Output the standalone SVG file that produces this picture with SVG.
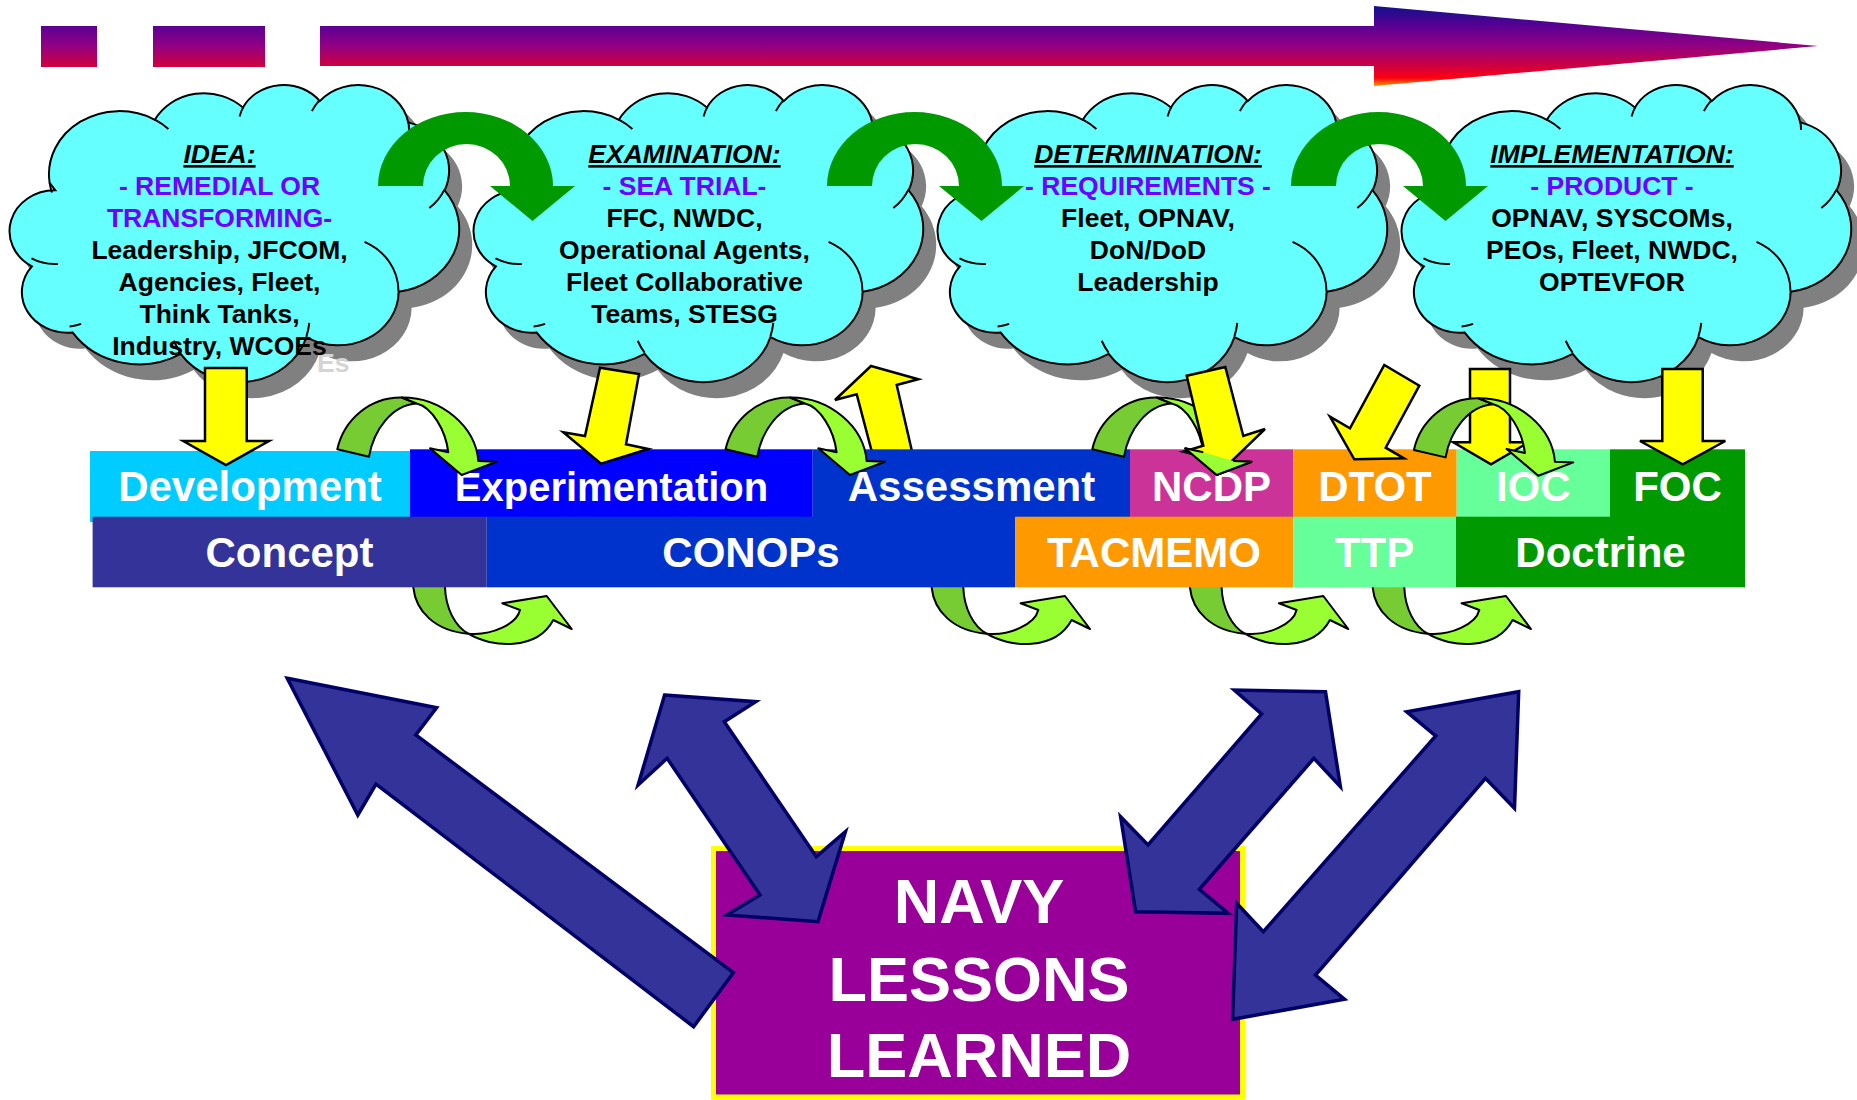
<svg xmlns="http://www.w3.org/2000/svg" width="1857" height="1100" viewBox="0 0 1857 1100">
<defs>
<linearGradient id="gTop" gradientUnits="userSpaceOnUse" x1="0" y1="6" x2="0" y2="86">
<stop offset="0" stop-color="#10108A"/>
<stop offset="0.25" stop-color="#5A0094"/>
<stop offset="0.5" stop-color="#930082"/>
<stop offset="0.75" stop-color="#CE0040"/>
<stop offset="0.9" stop-color="#FF0010"/>
<stop offset="1" stop-color="#FF9900"/>
</linearGradient>
<path id="cloud" d="M40.63,98.79 A70.34,63.18 0 0 1 145.89,35.77 A55.55,49.96 0 0 1 233.93,23.62 A45.47,40.87 0 0 1 310.78,17.08 A50.59,45.34 0 0 1 399.17,38.36 A55.55,50 0 0 1 435.63,106.32 A70.57,63.39 0 0 1 389.64,207.67 A60.26,54.09 0 0 1 297.46,253.11 A70.33,63.35 0 0 1 171.68,269.97 A80.42,72.48 0 0 1 63.56,248.39 A45.42,40.69 0 0 1 22.93,182.43 A45.26,40.87 0 0 1 46.29,106.29 Z"/>
<path id="cloudIn" d="M48.89,179.97 A45.26,40.87 0 0 1 22.5,174.49 M72.17,239.93 A45.42,40.69 0 0 1 60.61,242.56 M171.65,268.74 A70.33,63.35 0 0 1 164.69,256.77 M300.28,238.91 A70.33,63.35 0 0 1 297.5,252.04 M355.51,157.81 A60.26,54.09 0 0 1 389.39,206.87 M435.4,105.56 A55.55,50 0 0 1 420.31,123.96 M399.21,37.3 A50.59,45.34 0 0 1 400,45.99 M302.9,27.17 A50.59,45.34 0 0 1 310.63,16.09 M230.64,32.45 A45.47,40.87 0 0 1 234.38,22.89 M145.83,35.7 A70.34,63.18 0 0 1 159.4,44.98 M42.99,108.55 A70.34,63.18 0 0 1 40.64,98.78"/>
<path id="bigArrow" d="M0,186 A87.5,74 0 0 1 175,186 L197,186 L154.5,221 L112,186 L132,186 A43.5,42 0 0 0 45,186 Z"/>
<g id="ctop">
<path class="gd" d="M-124.4,-25.7 C-118,-55 -92,-78 -60,-77.5 L-45,-71.5 C-70,-70 -88,-45 -92.7,-18.3 Z"/>
<path class="gl" d="M-60,-77.5 C-20,-78 14,-48 16.6,-14 L35,-13.3 L0,0 L-31.7,-26.7 L-13.4,-22.7 C-16,-45 -30,-68 -45,-71.5 Z"/>
</g>
<g id="ctopHead">
<path fill="#99FF33" d="M16.6,-14 L35,-13.3 L0,0 L-31.7,-26.7 L-13.4,-22.7 Z"/>
<path fill="none" stroke="#000" stroke-width="2" d="M16.6,-14 L35,-13.3 L0,0 L-31.7,-26.7 L-13.4,-22.7"/>
</g>
<g id="cbot">
<path class="gd" d="M-133.4,-20 L-133.4,-8.7 C-131,15 -112,35 -78.4,37.7 C-92,30 -101,12 -101.7,-8.7 L-101.7,-20 Z"/>
<path class="gl" d="M-78.4,37.7 C-55,52 -10,55 6.6,24 L25,33 L0,0 L-44.4,7.3 L-26.7,14 C-30,28 -55,40 -78.4,37.7 Z"/>
</g>
</defs>
<style>
.sh{fill:#808080}
.cl{fill:#66FFFF;stroke:#000;stroke-width:2}
.ci{fill:none;stroke:#000;stroke-width:2}
.ct{font-family:"Liberation Sans",Arial,sans-serif;font-weight:bold;font-size:26.5px;text-anchor:middle;fill:#000}
.ttl{font-style:italic;text-decoration:underline}
.pur{fill:#7000FF}
.ghost{font-family:"Liberation Sans",Arial,sans-serif;font-weight:bold;font-size:26.5px;fill:#D4D4D4}
.grn{fill:#009900}
.yl{fill:#FFFF00;stroke:#000;stroke-width:2.5;stroke-linejoin:miter}
.gd{fill:#77CC33;stroke:#000;stroke-width:2;stroke-linejoin:round}
.gl{fill:#99FF33;stroke:#000;stroke-width:2;stroke-linejoin:round}
.bx{font-family:"Liberation Sans",Arial,sans-serif;font-weight:bold;font-size:42px;fill:#FFFFFF;text-anchor:middle}
.bl{fill:#333399;stroke:#000066;stroke-width:3.5;stroke-linejoin:miter}
.nv{font-family:"Liberation Sans",Arial,sans-serif;font-weight:bold;font-size:63px;fill:#FFFFFF;text-anchor:middle}
</style>
<rect width="1857" height="1100" fill="#FFFFFF"/>

<g id="timeline-arrow">
<rect x="41" y="26" width="56" height="41" fill="url(#gTop)"/>
<rect x="153" y="26" width="112" height="41" fill="url(#gTop)"/>
<path d="M320,26 L1374,26 L1374,6 L1818,46 L1374,86 L1374,66 L320,66 Z" fill="url(#gTop)"/>
</g>

<g id="cloud-idea" transform="translate(9,84)">
<use href="#cloud" class="sh" transform="translate(13,16)"/>
<text class="ghost" x="308" y="288">Es</text>
<use href="#cloud" class="cl"/>
<use href="#cloudIn" class="ci"/>
<text class="ct ttl" x="210.5" y="79">IDEA:</text>
<text class="ct pur" x="210.5" y="111">- REMEDIAL OR</text>
<text class="ct pur" x="210.5" y="143">TRANSFORMING-</text>
<text class="ct" x="210.5" y="175">Leadership, JFCOM,</text>
<text class="ct" x="210.5" y="207">Agencies, Fleet,</text>
<text class="ct" x="210.5" y="239">Think Tanks,</text>
<text class="ct" x="210.5" y="271">Industry, WCOEs</text>
</g>

<g id="cloud-examination" transform="translate(473,84)">
<use href="#cloud" class="sh" transform="translate(13,16)"/>
<use href="#cloud" class="cl"/>
<use href="#cloudIn" class="ci"/>
<text class="ct ttl" x="211.5" y="79">EXAMINATION:</text>
<text class="ct pur" x="211.5" y="111">- SEA TRIAL-</text>
<text class="ct" x="211.5" y="143">FFC, NWDC,</text>
<text class="ct" x="211.5" y="175">Operational Agents,</text>
<text class="ct" x="211.5" y="207">Fleet Collaborative</text>
<text class="ct" x="211.5" y="239">Teams, STESG</text>
</g>

<g id="cloud-determination" transform="translate(937,84)">
<use href="#cloud" class="sh" transform="translate(13,16)"/>
<use href="#cloud" class="cl"/>
<use href="#cloudIn" class="ci"/>
<text class="ct ttl" x="211" y="79">DETERMINATION:</text>
<text class="ct pur" x="211" y="111">- REQUIREMENTS -</text>
<text class="ct" x="211" y="143">Fleet, OPNAV,</text>
<text class="ct" x="211" y="175">DoN/DoD</text>
<text class="ct" x="211" y="207">Leadership</text>
</g>

<g id="cloud-implementation" transform="translate(1401,84)">
<use href="#cloud" class="sh" transform="translate(13,16)"/>
<use href="#cloud" class="cl"/>
<use href="#cloudIn" class="ci"/>
<text class="ct ttl" x="211" y="79">IMPLEMENTATION:</text>
<text class="ct pur" x="211" y="111">- PRODUCT -</text>
<text class="ct" x="211" y="143">OPNAV, SYSCOMs,</text>
<text class="ct" x="211" y="175">PEOs, Fleet, NWDC,</text>
<text class="ct" x="211" y="207">OPTEVFOR</text>
</g>

<g id="connectors-phase">
<use href="#bigArrow" class="grn" transform="translate(378,0)"/>
<use href="#bigArrow" class="grn" transform="translate(827,0)"/>
<use href="#bigArrow" class="grn" transform="translate(1291,0)"/>
</g>

<g id="connectors-back">
<polygon class="yl" points="871,366 918.3,379.3 896.7,385 913.5,458 873.5,458 856.7,394.3 835,400"/>
<use href="#cbot" transform="translate(546.7,596)"/>
<use href="#cbot" transform="translate(1065,596)"/>
<use href="#cbot" transform="translate(1323.3,596)"/>
<use href="#cbot" transform="translate(1506,596)"/>
</g>

<g id="node-development"><rect x="90" y="451" width="320" height="71" fill="#00CCFF"/><text class="bx" x="250" y="501">Development</text></g>
<g id="node-experimentation"><rect x="410" y="449.3" width="402.7" height="68" fill="#0000FF"/><text class="bx" x="611.5" y="501" style="font-size:40px">Experimentation</text></g>
<g id="node-assessment"><rect x="812.7" y="449.3" width="317.3" height="68" fill="#0033CC"/><text class="bx" x="971.5" y="501">Assessment</text></g>
<g id="node-ncdp"><rect x="1130" y="449.3" width="163.3" height="68" fill="#CC3399"/><text class="bx" x="1211.5" y="501">NCDP</text></g>
<g id="node-dtot"><rect x="1293.3" y="449.3" width="163.4" height="68" fill="#FF9900"/><text class="bx" x="1375" y="501">DTOT</text></g>
<g id="node-ioc"><rect x="1456.7" y="449.3" width="153.3" height="68" fill="#66FF99"/><text class="bx" x="1533.3" y="501">IOC</text></g>
<g id="node-foc"><rect x="1610" y="449.3" width="135" height="68" fill="#009900"/><text class="bx" x="1677.5" y="501">FOC</text></g>
<g id="node-concept"><rect x="92.6" y="516.7" width="394.1" height="70.6" fill="#333399"/><text class="bx" x="289.5" y="567">Concept</text></g>
<g id="node-conops"><rect x="486.7" y="516.7" width="528.6" height="70.6" fill="#0033CC"/><text class="bx" x="751" y="567">CONOPs</text></g>
<g id="node-tacmemo"><rect x="1015.3" y="516.7" width="278" height="70.6" fill="#FF9900"/><text class="bx" x="1154" y="567">TACMEMO</text></g>
<g id="node-ttp"><rect x="1293.3" y="516.7" width="162.7" height="70.6" fill="#66FF99"/><text class="bx" x="1374.5" y="567">TTP</text></g>
<g id="node-doctrine"><rect x="1456" y="516.7" width="289" height="70.6" fill="#009900"/><text class="bx" x="1600.5" y="567">Doctrine</text></g>

<g id="connectors-front">
<polygon class="yl" points="205,368 246.7,368 246.7,441 269,441 226,465 183.3,441 205,441"/>
<polygon class="yl" points="600,367.7 639,374 626,444.3 648.3,449 601,463.7 563.3,432.3 585,436"/>
<use href="#ctop" transform="translate(1216.7,475)"/>
<polygon class="yl" points="1186.7,375.7 1225.3,367 1243.3,436 1265,429 1229.3,463.3 1183.3,451.7 1203.3,445.7"/>
<use href="#ctopHead" transform="translate(1216.7,475)"/>
<polygon class="yl" points="1384.3,365 1419.3,385.7 1385.7,447.7 1404,458.3 1354.3,459.3 1330,416.7 1350,428.3"/>
<polygon class="yl" points="1470,369 1510,369 1510,442.3 1528.7,442.3 1491,464.3 1453.3,442.3 1470,442.3"/>
<polygon class="yl" points="1662.3,369 1702.7,369 1702.7,441 1725.3,441 1682.7,464.3 1640,441 1662.3,441"/>
<use href="#ctop" transform="translate(461.7,475)"/>
<use href="#ctop" transform="translate(850,475)"/>
<use href="#ctop" transform="translate(1538.3,475.7)"/>
</g>

<g id="node-lessons-learned">
<rect x="713.5" y="848.5" width="529" height="248.5" fill="#990099" stroke="#FFFF00" stroke-width="5"/>
<text class="nv" x="979" y="923">NAVY</text>
<text class="nv" x="979" y="1001">LESSONS</text>
<text class="nv" x="979" y="1077">LEARNED</text>
</g>

<g id="connectors-lessons">
<polygon class="bl" points="287.3,678.3 436.6,707.7 415.8,735 733.4,972.7 693.6,1026.7 376,784 357.8,815"/>
<polygon class="bl" points="664.6,695 755.8,701.7 724.3,721.7 816.3,856.7 845.4,831.7 818,921.7 726.8,915 760,895 667.1,758.3 638.1,785"/>
<polygon class="bl" points="1325.5,691.7 1340.4,786.7 1313.9,758.3 1199.4,889.3 1228.4,913.3 1135.6,911.7 1120.6,816.7 1148,845 1261.6,714 1234.3,690"/>
<polygon class="bl" points="1518.7,691.7 1514.5,808.3 1485.5,778.3 1315.5,975 1344.5,999.3 1232.6,1019.3 1236.7,903.3 1263.3,931.7 1435.7,736 1406.7,711.7"/>
</g>
</svg>
